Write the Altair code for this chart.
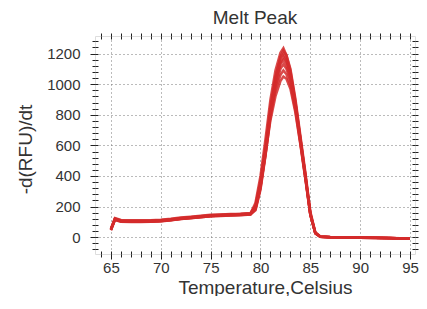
import altair as alt
import pandas as pd

temps = [65, 65.4, 66, 67, 68, 69, 70, 71, 72, 73, 74, 75, 76, 77, 78, 79, 79.5, 80,
         80.5, 81, 81.5, 82, 82.3, 82.6, 83, 83.5, 84, 84.5, 85, 85.5, 86, 87, 90, 93, 95]

curve1 = [50, 120, 108, 106, 106, 107, 110, 116, 124, 130, 136, 142, 145, 148, 150, 155, 225, 400,
          640, 900, 1090, 1205, 1235, 1190, 1090, 890, 650, 410, 160, 30, 4, 1, -2, -6, -10]
curve2 = [45, 112, 100, 99, 99, 100, 103, 110, 118, 124, 130, 136, 139, 142, 144, 148, 185, 330,
          550, 820, 1040, 1180, 1220, 1190, 1100, 905, 665, 425, 168, 32, 5, 1, -2, -6, -11]
curve3 = [55, 125, 112, 110, 110, 111, 114, 120, 128, 134, 140, 146, 149, 151, 153, 158, 210, 370,
          595, 860, 1050, 1170, 1200, 1160, 1070, 875, 640, 405, 155, 28, 3, 0, -3, -7, -10]
curve4 = [48, 116, 104, 102, 102, 103, 106, 112, 120, 126, 132, 138, 141, 144, 146, 150, 180, 320,
          540, 800, 1005, 1140, 1180, 1150, 1065, 875, 645, 405, 152, 26, 3, 0, -2, -6, -9]
curve5 = [52, 118, 106, 104, 104, 105, 108, 114, 122, 128, 134, 140, 143, 146, 148, 152, 195, 345,
          570, 825, 1010, 1130, 1160, 1125, 1040, 855, 625, 395, 150, 27, 3, 0, -3, -7, -11]
curve6 = [47, 114, 102, 101, 101, 102, 105, 111, 119, 125, 131, 137, 140, 143, 145, 149, 175, 310,
          530, 785, 975, 1100, 1130, 1100, 1025, 850, 625, 392, 148, 25, 3, 0, -2, -6, -10]
curve7 = [53, 121, 109, 107, 107, 108, 111, 117, 125, 131, 137, 143, 146, 149, 151, 154, 200, 350,
          565, 800, 960, 1060, 1090, 1065, 995, 830, 612, 386, 145, 25, 3, 0, -3, -7, -10]
curve8 = [50, 117, 105, 103, 103, 104, 107, 113, 121, 127, 133, 139, 142, 145, 147, 151, 188, 330,
          540, 765, 920, 1020, 1050, 1035, 970, 815, 605, 380, 145, 24, 3, 0, -2, -6, -10]

curves = [curve1, curve2, curve3, curve4, curve5, curve6, curve7, curve8]

major_x = [65, 70, 75, 80, 85, 90, 95]
minor_x = list(range(64, 96))
major_y = [0, 200, 400, 600, 800, 1000, 1200]
minor_y = list(range(-80, 1300, 40))

rows = []
for i, c in enumerate(curves):
    for t, v in zip(temps, c):
        rows.append({"temp": t, "val": v, "curve": f"c{i+1}"})
df = pd.DataFrame(rows)

FONT = "Liberation Sans"
TXT = "#333333"
xscale = alt.Scale(domain=[63.4, 95.5], nice=False, zero=False)
yscale = alt.Scale(domain=[-110, 1315], nice=False, zero=False)

base = alt.Chart(df)

main = base.mark_line(color="#d42b2b", strokeWidth=2.5, opacity=0.85).encode(
    x=alt.X("temp:Q", scale=xscale,
            axis=alt.Axis(orient="bottom", values=major_x, title="Temperature,Celsius",
                          grid=True, gridDash=[1, 3], gridColor="#777777", gridWidth=1,
                          domain=False, tickSize=5, tickColor="#222222", tickWidth=1,
                          labelFont=FONT, labelFontSize=15, labelColor=TXT, labelPadding=1,
                          titleFont=FONT, titleFontSize=19, titleFontWeight="normal",
                          titleColor=TXT, titleX=170, titleY=39, titleAlign="center",
                          titleBaseline="alphabetic")),
    y=alt.Y("val:Q", scale=yscale,
            axis=alt.Axis(orient="left", values=major_y, title="-d(RFU)/dt", format="d",
                          grid=True, gridDash=[1, 3], gridColor="#777777", gridWidth=1,
                          domain=False, tickSize=5, tickColor="#222222", tickWidth=1,
                          labelFont=FONT, labelFontSize=15, labelColor=TXT, labelPadding=10,
                          titleFont=FONT, titleFontSize=19, titleFontWeight="normal",
                          titleColor=TXT, titleX=-70, titleY=113, titleAlign="center",
                          titleBaseline="middle", titleAngle=270)),
    detail="curve:N",
)


def tick_layer(xorient, yorient, offset):
    return base.mark_line(opacity=0).encode(
        x=alt.X("temp:Q", scale=xscale,
                axis=alt.Axis(orient=xorient, values=minor_x, title="", labels=False,
                              grid=False, domain=False, tickSize=3, tickColor="#222222",
                              offset=offset)),
        y=alt.Y("val:Q", scale=yscale,
                axis=alt.Axis(orient=yorient, values=minor_y, title="", labels=False,
                              grid=False, domain=False, tickSize=3, tickColor="#222222",
                              offset=offset)),
        detail="curve:N",
    )


chart = alt.layer(
    main,
    tick_layer("bottom", "left", 0),
    tick_layer("bottom", "left", -3),
    tick_layer("top", "right", 0),
    tick_layer("top", "right", -3),
).resolve_axis(x="independent", y="independent").properties(
    width=320,
    height=218,
    title=alt.TitleParams("Melt Peak", font=FONT, fontSize=19, fontWeight="normal",
                          color=TXT, anchor="middle", offset=5),
    autosize=alt.AutoSizeParams(type="none"),
    padding={"left": 87, "top": 28, "right": 4, "bottom": 42},
).configure_view(stroke="#222222", strokeWidth=1.5).configure(background="white")

chart.save("out.html", embed_options={"renderer": "svg", "actions": False})
